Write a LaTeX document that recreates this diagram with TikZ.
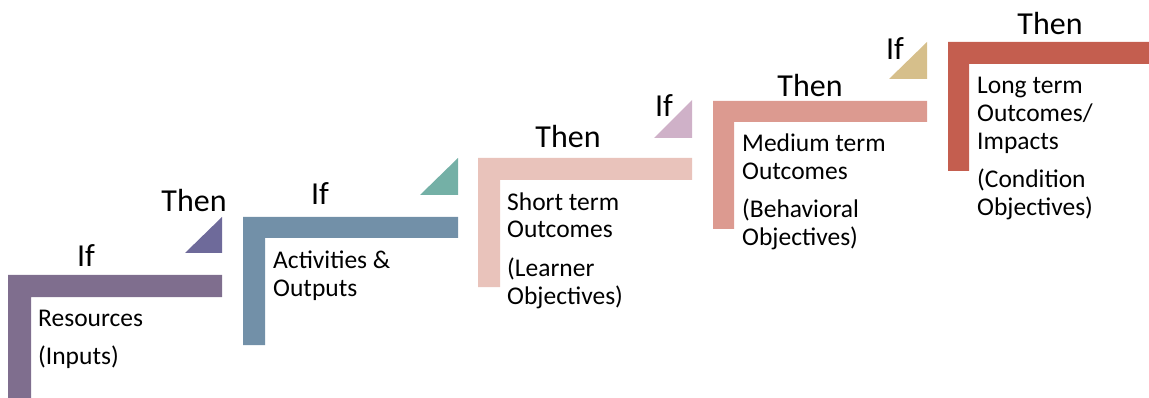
\documentclass[tikz,border=0pt]{standalone}
\usepackage{fontspec}
\setmainfont{Carlito}
\usetikzlibrary{positioning}

\definecolor{bara}{HTML}{7F6E8E}
\definecolor{barb}{HTML}{7290A8}
\definecolor{barc}{HTML}{E9C3BB}
\definecolor{bard}{HTML}{DC9A90}
\definecolor{bare}{HTML}{C45E4F}
\definecolor{tria}{HTML}{6E6A9A}
\definecolor{trib}{HTML}{74B0A6}
\definecolor{tric}{HTML}{CFB1C8}
\definecolor{trid}{HTML}{D6BF8B}

\begin{document}
\begin{tikzpicture}[
    x=1pt, y=-1pt,
    font=\fontsize{25.5}{28}\selectfont
]
\tikzset{
    word/.style = {anchor=base, inner sep=0pt, font=\fontsize{32}{36}\selectfont},
    body/.style = {anchor=base west, inner sep=0pt, align=left}
}
\useasboundingbox (0,0) rectangle (1149,398);
% stairs
\fill[bara] (8,275) -- (222,275) -- (222,297) -- (31,297) -- (31,398) -- (8,398) -- cycle;
\fill[barb] (243,217) -- (458,217) -- (458,238) -- (265,238) -- (265,345) -- (243,345) -- cycle;
\fill[barc] (478,158) -- (692,158) -- (692,180) -- (500,180) -- (500,287) -- (478,287) -- cycle;
\fill[bard] (713,101) -- (927,101) -- (927,122) -- (734,122) -- (734,229) -- (713,229) -- cycle;
\fill[bare] (948,42) -- (1149,42) -- (1149,64) -- (969,64) -- (969,171) -- (948,171) -- cycle;
% triangles
\fill[tria] (185,253) -- (222,253) -- (222,217) -- cycle;
\fill[trib] (420,195) -- (458,195) -- (458,158) -- cycle;
\fill[tric] (654,138) -- (692,138) -- (692,100) -- cycle;
\fill[trid] (889,79) -- (927,79) -- (927,42) -- cycle;
% if / then (base line positions)
\node[word] at (86,266) (ifa) {If};
\node[word] at (194,212) (thena) {Then};
\node[word] at (320,205) (ifb) {If};
\node[word] at (568,148) (thenb) {Then};
\node[word] at (664,117) (ifc) {If};
\node[word] at (810,97) (thenc) {Then};
\node[word] at (895,60) (ifd) {If};
\node[word] at (1050,35) (thend) {Then};
% box texts (anchored on the last line)
\node[body] at (38,326) (resources) {Resources};
\node[body] at (38,364) (inputs) {(Inputs)};
\node[body] at (273,296) (activities) {Activities \&\\Outputs};
\node[body] at (507,238) (short) {Short term\\Outcomes};
\node[body] at (507,304) (learner) {(Learner\\Objectives)};
\node[body] at (742,180) (medium) {Medium term\\Outcomes};
\node[body] at (742,246) (behavioral) {(Behavioral\\Objectives)};
\node[body] at (977,150) (long) {Long term\\Outcomes/\\Impacts};
\node[body] at (977,216) (condition) {(Condition\\Objectives)};
\end{tikzpicture}
\end{document}
